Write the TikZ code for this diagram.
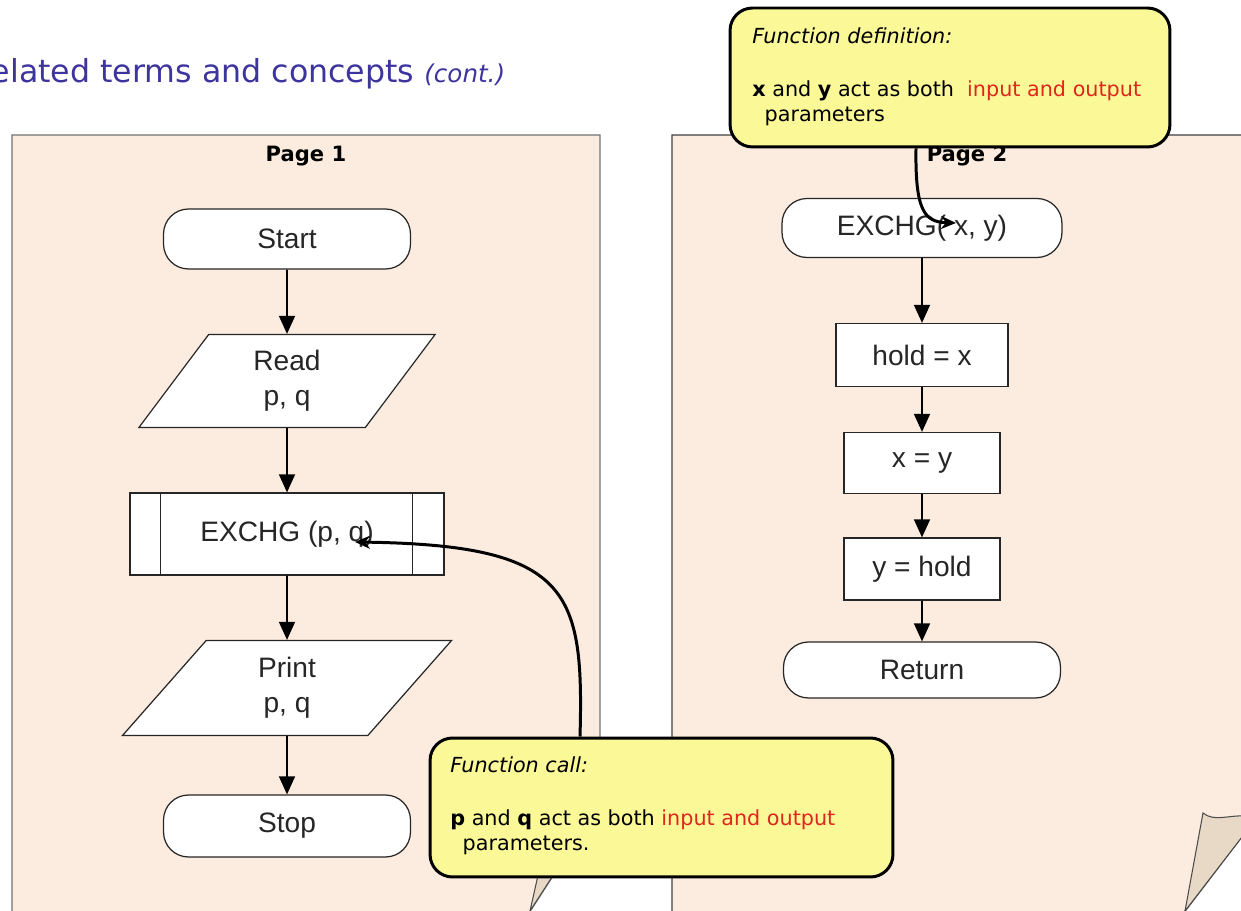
\documentclass[tikz,border=0pt]{standalone}
\usepackage{fontspec}
\setmainfont{DejaVu Sans}
\newfontfamily\flowfont{Liberation Sans}
\usetikzlibrary{arrows.meta,shapes.geometric}
\definecolor{pagefill}{RGB}{252,236,224}
\definecolor{foldfill}{RGB}{232,216,198}
\definecolor{notefill}{RGB}{251,248,152}
\definecolor{notered}{RGB}{222,40,28}
\definecolor{titleblue}{RGB}{62,52,158}

\begin{document}
\begin{tikzpicture}[x=0.02cm,y=-0.02cm,
  flow/.style={draw=black!85,fill=white,line width=0.7pt,text=black!85,font=\flowfont\fontsize{16}{20}\selectfont,align=center,inner sep=0pt},
  term/.style={flow,rectangle,rounded corners=0.5cm},
  inout/.style={flow,trapezium,trapezium left angle=64,trapezium right angle=116,trapezium stretches=true},
  proc/.style={flow,rectangle},
  flowarrow/.style={line width=0.9pt,-{Triangle[length=3.6mm,width=3.2mm]}},
  callout/.style={draw=black,fill=notefill,line width=1.7pt,rounded corners=0.45cm,minimum width=8.8cm,minimum height=2.78cm},
  note/.style={anchor=north west,align=left,inner sep=0pt,font=\fontsize{11.8}{14.2}\selectfont},
  callarrow/.style={line width=1.7pt,-{Stealth[length=3mm,width=2.6mm]}},
  pagelabel/.style={font=\bfseries\fontsize{12}{14}\selectfont}]
\useasboundingbox (0,0) rectangle (1241,911);
\fill[white] (0,0) rectangle (1241,911);
\node (title) at (-30,83) [anchor=base west,inner sep=0pt,text=titleblue] {\fontsize{18}{21}\selectfont Related terms and concepts \fontsize{14}{16}\selectfont\itshape(cont.)};
\draw[draw=black!55,fill=pagefill,line width=0.8pt] (12,960) -- (12,135) -- (600,135) -- (600,803) -- (527,916) -- (527,960) -- cycle;
\draw[draw=black!70,fill=foldfill,line width=0.6pt] (530,911) -- (541,862) -- (600,803) -- cycle;
\draw[draw=black!75,fill=pagefill,line width=0.8pt] (672,960) -- (672,135) -- (1260,135) -- (1260,813) -- (1182,915) -- (1182,960) -- cycle;
\draw[draw=black!70,fill=foldfill,line width=0.6pt] (1185,911) -- (1203,813) .. controls (1214,822) and (1228,815) .. (1245,816) -- (1245,833) -- cycle;
\node (p1-label) at (306,156) [pagelabel] {Page 1};
\node (p2-label) at (967,156) [pagelabel] {Page 2};
\node (p1-start) at (287,239) [term,minimum width=4.94cm,minimum height=1.2cm] {Start};
\node (p1-read) at (287,381) [inout,minimum width=5.94cm,minimum height=1.86cm] {Read\\p, q};
\node (p1-call) at (287,534) [proc,minimum width=6.28cm,minimum height=1.64cm] {EXCHG (p, q)};
\draw[draw=black!85,line width=0.7pt] ([xshift=0.62cm]p1-call.north west) -- ([xshift=0.62cm]p1-call.south west)
  ([xshift=-0.64cm]p1-call.north east) -- ([xshift=-0.64cm]p1-call.south east);
\node (p1-print) at (287,688) [inout,minimum width=6.6cm,minimum height=1.9cm] {Print\\p, q};
\node (p1-stop) at (287,826) [term,minimum width=4.94cm,minimum height=1.24cm] {Stop};
\draw[flowarrow] (p1-start) -- (p1-read);
\draw[flowarrow] (p1-read) -- (p1-call);
\draw[flowarrow] (p1-call) -- (p1-print);
\draw[flowarrow] (p1-print) -- (p1-stop);
\node (p2-entry) at (922,228) [term,minimum width=5.6cm,minimum height=1.18cm] {EXCHG( x, y)};
\node (p2-hold) at (922,355) [proc,minimum width=3.44cm,minimum height=1.26cm] {hold = x};
\node (p2-xy) at (922,463) [proc,minimum width=3.12cm,minimum height=1.22cm] {x = y};
\node (p2-yh) at (922,569) [proc,minimum width=3.12cm,minimum height=1.24cm] {y = hold};
\node (p2-ret) at (922,670) [term,minimum width=5.54cm,minimum height=1.12cm] {Return};
\draw[flowarrow] (p2-entry) -- (p2-hold);
\draw[flowarrow] (p2-hold) -- (p2-xy);
\draw[flowarrow] (p2-xy) -- (p2-yh);
\draw[flowarrow] (p2-yh) -- (p2-ret);
\node (defbox) at (950,77.5) [callout] {};
\node (deftext) at (752,27) [note] {\textit{Function definition:}\\[16pt]\textbf{x} and \textbf{y} act as both\ \ \textcolor{notered}{input and output}\\\hspace*{7pt}parameters};
\node (callbox) at (661.5,807.5) [callout,minimum width=9.26cm] {};
\node (calltext) at (450,756) [note] {\textit{Function call:}\\[16pt]\textbf{p} and \textbf{q} act as both \textcolor{notered}{input and output}\\\hspace*{7pt}parameters.};
\coordinate (defend) at (956,223);
\coordinate (callend) at (355,542);
\draw[callarrow] ([xshift=-0.68cm]defbox.south) .. controls (915,212) and (925,222) .. (defend);
\draw[callarrow] ([xshift=-1.63cm]callbox.north) .. controls (584,590) and (570,545) .. (callend);
\end{tikzpicture}
\end{document}
